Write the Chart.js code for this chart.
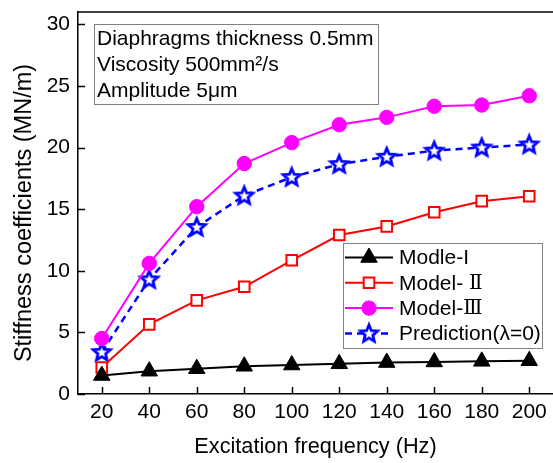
<!DOCTYPE html>
<html lang="en">
<head>
<meta charset="utf-8">
<title>Stiffness coefficients vs excitation frequency</title>
<script src="https://cdn.jsdelivr.net/npm/chart.js@4.4.0/dist/chart.umd.min.js"></script>
<style>
  html, body { margin: 0; background: #fff; overflow: hidden; }
  #wrap { width: 553px; height: 463px; }
</style>
</head>
<body>
<div id="wrap"><canvas id="stiffChart"></canvas></div>
<script>
// excitation frequencies (Hz) and stiffness (MN/m) for each model
var freq = [20, 40, 60, 80, 100, 120, 140, 160, 180, 200];
var modelI = [1.5, 1.85, 2.05, 2.25, 2.35, 2.45, 2.55, 2.6, 2.65, 2.7];
var modelII = [2.15, 5.65, 7.6, 8.7, 10.85, 12.9, 13.6, 14.75, 15.65, 16.05];
var modelIII = [4.5, 10.6, 15.2, 18.7, 20.4, 21.85, 22.45, 23.35, 23.45, 24.2];
var prediction = [3.4, 9.3, 13.55, 16.1, 17.6, 18.65, 19.25, 19.75, 20.0, 20.25];
var seriesNames = ['Modle-I', 'Model- \u2161', 'Model-\u2162', 'Prediction(\u03bb=0)'];
var yTicks = [0, 5, 10, 15, 20, 25, 30];
var infoLines = ['Diaphragms thickness 0.5mm', 'Viscosity 500mm\u00b2/s', 'Amplitude 5\u03bcm'];
var yTitle = 'Stiffness coefficients (MN/m)';

var FONT = '"Liberation Sans", Arial, "Noto Sans CJK SC", sans-serif';
var NUMERAL_FONT = '"DejaVu Serif", "Liberation Serif", serif';

// hollow five-pointed star used as the marker for the prediction curve
function starImage(r, color) {
    var size = Math.ceil(r * 2 + 6);
    var c = document.createElement('canvas');
    c.width = size; c.height = size;
    var g = c.getContext('2d');
    var cx = size / 2, cy = size / 2 + 0.5;
    g.beginPath();
    for (var k = 0; k < 10; k++) {
        var rad = (k % 2 === 0) ? r : r * 0.45;
        var a = -Math.PI / 2 + k * Math.PI / 5;
        var px = cx + rad * Math.cos(a), py = cy + rad * Math.sin(a);
        if (k === 0) g.moveTo(px, py); else g.lineTo(px, py);
    }
    g.closePath();
    g.fillStyle = '#fff';
    g.fill();
    g.lineWidth = 2.8;
    g.strokeStyle = color;
    g.stroke();
    return c;
}

function pairs(vals) {
    return freq.map(function (f, i) { return { x: f, y: vals[i] }; });
}

var datasets = [{
    label: seriesNames[0], data: pairs(modelI),
    borderColor: '#000', backgroundColor: '#000', borderWidth: 2,
    pointStyle: 'triangle', pointRadius: 9.5, pointBorderWidth: 1
}, {
    label: seriesNames[1], data: pairs(modelII),
    borderColor: '#ff0000', backgroundColor: '#fff', borderWidth: 2,
    pointStyle: 'rect', pointRadius: 7.5, pointBorderWidth: 2
}, {
    label: seriesNames[2], data: pairs(modelIII),
    borderColor: '#ff00ff', backgroundColor: '#ff00ff', borderWidth: 2,
    pointStyle: 'circle', pointRadius: 7.2, pointBorderWidth: 1
}, {
    label: seriesNames[3], data: pairs(prediction),
    borderColor: '#0000ff', backgroundColor: '#fff', borderWidth: 2.5, borderDash: [7, 5],
    pointStyle: starImage(9, '#0000ff'), pointRadius: 8, pointBorderWidth: 2
}];

// legend text with roman numerals set in a serif face
function drawLabel(ctx, text, x, y) {
    var parts = text.split(/([\u2160-\u217f])/);
    parts.forEach(function (p) {
        if (!p) return;
        ctx.font = /[\u2160-\u217f]/.test(p) ? '20px ' + NUMERAL_FONT : '21px ' + FONT;
        ctx.fillText(p, x, y);
        x += ctx.measureText(p).width;
    });
    ctx.font = '21px ' + FONT;
}

// inward tick marks, top frame line, y title, info box and legend box
var decorations = {
    id: 'decorations',
    afterDatasetsDraw: function (chart) {
        var ctx = chart.ctx, a = chart.chartArea;
        var xs = chart.scales.x, ys = chart.scales.y;
        ctx.save();
        ctx.strokeStyle = '#000';
        ctx.lineWidth = 1.5;
        ctx.beginPath();
        freq.forEach(function (f) {
            var px = Math.round(xs.getPixelForValue(f)) + 0.5;
            ctx.moveTo(px, a.bottom); ctx.lineTo(px, a.bottom - 7);
        });
        yTicks.forEach(function (v) {
            var py = Math.round(ys.getPixelForValue(v)) + 0.5;
            ctx.moveTo(a.left, py); ctx.lineTo(a.left + 7, py);
        });
        ctx.moveTo(a.left, a.top); ctx.lineTo(chart.width, a.top);
        ctx.stroke();

        // rotated y axis title
        ctx.save();
        ctx.translate(25, 213);
        ctx.rotate(-Math.PI / 2);
        ctx.fillStyle = '#000';
        ctx.font = '23.5px ' + FONT;
        ctx.textAlign = 'center';
        ctx.textBaseline = 'middle';
        ctx.fillText(yTitle, 0, 0);
        ctx.restore();

        // info box
        ctx.fillStyle = '#fff';
        ctx.strokeStyle = '#7f7f7f';
        ctx.lineWidth = 1;
        ctx.fillRect(94, 24, 284, 80);
        ctx.strokeRect(94.5, 24.5, 284, 80);
        ctx.fillStyle = '#000';
        ctx.font = '21px ' + FONT;
        ctx.textBaseline = 'middle';
        infoLines.forEach(function (t, i) {
            ctx.fillText(t, 97, 39 + i * 26);
        });

        // legend box
        ctx.fillStyle = '#fff';
        ctx.fillRect(343, 243, 199, 105);
        ctx.strokeStyle = '#7f7f7f';
        ctx.strokeRect(343.5, 243.5, 199, 105);
        chart.data.datasets.forEach(function (ds, i) {
            var y = 257.5 + i * 25.3;
            ctx.save();
            ctx.strokeStyle = ds.borderColor;
            ctx.lineWidth = ds.borderWidth;
            ctx.setLineDash(ds.borderDash || []);
            ctx.beginPath();
            ctx.moveTo(345, y); ctx.lineTo(393, y);
            ctx.stroke();
            ctx.setLineDash([]);
            ctx.fillStyle = ds.backgroundColor;
            ctx.lineWidth = ds.pointBorderWidth;
            Chart.helpers.drawPoint(ctx, {
                pointStyle: ds.pointStyle, radius: ds.pointRadius,
                borderWidth: ds.pointBorderWidth, rotation: 0
            }, 369, y);
            ctx.restore();
            ctx.fillStyle = '#000';
            drawLabel(ctx, ds.label, 399, y + 1);
        });
        ctx.restore();
    }
};

var ctx = document.getElementById('stiffChart').getContext('2d');
var myChart = new Chart(ctx, {
    type: 'line',
    data: { datasets: datasets },
    options: {
        responsive: true,
        maintainAspectRatio: false,
        animation: false,
        layout: { autoPadding: false, padding: { left: 0, top: 12, right: -2, bottom: 0 } },
        plugins: { legend: { display: false }, tooltip: { enabled: false } },
        scales: {
            x: {
                type: 'linear', min: 10, max: 210,
                afterFit: function (s) { s.height = 69; s.paddingLeft = 0; s.paddingRight = 0; },
                afterBuildTicks: function (s) { s.ticks = freq.map(function (v) { return { value: v }; }); },
                grid: { display: true, drawOnChartArea: false, drawTicks: false },
                border: { color: '#000', width: 1.5 },
                ticks: { color: '#000', padding: 6, maxRotation: 0, font: { family: FONT, size: 21 } },
                title: {
                    display: true, text: 'Excitation frequency (Hz)', color: '#000',
                    font: { family: FONT, size: 21.7 }, padding: { top: 0, bottom: 3 }
                }
            },
            y: {
                type: 'linear', min: 0, max: 31,
                afterFit: function (s) { s.width = 78; s.paddingTop = 0; s.paddingBottom = 0; },
                afterBuildTicks: function (s) { s.ticks = yTicks.map(function (v) { return { value: v }; }); },
                grid: { display: true, drawOnChartArea: false, drawTicks: false },
                border: { color: '#000', width: 1.5 },
                ticks: { color: '#000', padding: 8, font: { family: FONT, size: 21 } },
                title: { display: false }
            }
        }
    },
    plugins: [decorations]
});
</script>
</body>
</html>
